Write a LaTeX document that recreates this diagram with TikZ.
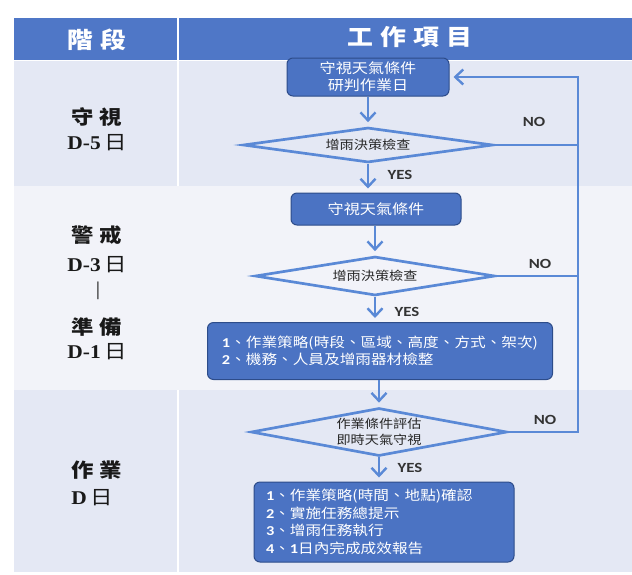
\documentclass[tikz,border=0pt]{standalone}
\usepackage{fontspec}
\setmainfont{Liberation Serif}
\newfontfamily\cjk[FakeStretch=1.15]{Noto Sans CJK TC}
\newfontfamily\lat[FakeStretch=1.2]{Carlito}
\newfontfamily\dser[FakeStretch=1.1]{Liberation Serif}
\usetikzlibrary{shapes.geometric,arrows.meta}
\definecolor{hdr}{HTML}{4F77C7}
\definecolor{bandA}{HTML}{E4E8F4}
\definecolor{bandB}{HTML}{F2F3F9}
\definecolor{boxfill}{HTML}{4B73C3}
\definecolor{boxedge}{HTML}{2D4C8A}
\definecolor{flow}{HTML}{5A89D6}
\newcommand\numlab[1]{{\lat\bfseries #1}}
\begin{document}
\begin{tikzpicture}[x=1pt,y=-1pt,
  stepbox/.style={draw=boxedge, line width=1pt, fill=boxfill, rounded corners=6pt,
    text=white, font=\cjk\fontsize{14}{17}\selectfont, inner sep=0pt, align=center},
  listbox/.style={stepbox, align=left, font=\cjk\fontsize{13.6}{17.5}\selectfont},
  decision/.style={diamond, draw=flow, line width=2.7pt, inner sep=0pt, align=center,
    text=black!85, font=\cjk\fontsize{12.3}{16}\selectfont},
  flowline/.style={draw=flow, line width=2.6pt},
  flowarrow/.style={flowline, shorten >=4pt, -{Straight Barb[length=8pt,width=15pt,line width=2.4pt]}},
  yn/.style={font=\lat\bfseries\fontsize{14}{14}\selectfont, text=black!80, inner sep=0pt},
  stage/.style={font=\bfseries\fontsize{19.5}{19.5}\selectfont, text=black!90, inner sep=0pt},
  headtxt/.style={font=\cjk\bfseries\fontsize{22.5}{22.5}\selectfont, text=white, inner sep=0pt}]
\useasboundingbox (0,0) rectangle (632,574);
\fill[white] (0,0) rectangle (632,574);
% bands
\fill[bandA] (14,61) rectangle (632,186);
\fill[bandB] (14,186) rectangle (632,390);
\fill[bandA] (14,390) rectangle (632,572);
\fill[hdr] (14,18) rectangle (632,60);
\draw[white, line width=1.5pt] (14,60.5) -- (632,60.5);
\draw[white, line width=1.5pt] (178,18) -- (178,186);
\draw[white, line width=1.5pt] (178,390) -- (178,572);
% header
\node[headtxt] (h1) at (97,40) {階\hspace{8pt}段};
\node[headtxt] (h2) at (410,37) {工\hspace{7pt}作\hspace{7pt}項\hspace{7pt}目};
% stage labels
\node[stage] (s1a) at (97,117) {\cjk 守\hspace{6pt}視};
\node[stage] (s1b) at (97,143) {\dser D-5\,{\cjk\mdseries 日}};
\node[stage] (s2a) at (97,235) {\cjk 警\hspace{6pt}戒};
\node[stage] (s2b) at (97,265) {\dser D-3\,{\cjk\mdseries 日}};
\node[stage] (s2c) at (98,291) {\dser\mdseries |};
\node[stage] (s2d) at (97,327) {\cjk 準\hspace{6pt}備};
\node[stage] (s2e) at (97,352) {\dser D-1\,{\cjk\mdseries 日}};
\node[stage] (s3a) at (97,470) {\cjk 作\hspace{6pt}業};
\node[stage] (s3b) at (92,498) {\dser D\,{\cjk\mdseries 日}};
% flow nodes
\node[stepbox, minimum width=162pt, minimum height=38pt] (b1) at (368,77) {守視天氣條件\\研判作業日};
\node[decision, aspect=7.1, minimum width=250pt, minimum height=35pt] (d1) at (368,145) {增雨決策檢查};
\node[stepbox, minimum width=170pt, minimum height=32pt] (b2) at (376,209) {守視天氣條件};
\node[decision, aspect=6.15, minimum width=240pt, minimum height=39pt] (d2) at (375,276) {增雨決策檢查};
\node[listbox, minimum width=345pt, minimum height=57pt] (b3) at (380,351)
  {\numlab{1}、作業策略(時段、區域、高度、方式、架次)\\\numlab{2}、機務、人員及增雨器材檢整};
\node[decision, aspect=5.33, minimum width=256pt, minimum height=48pt] (d3) at (379,432) {作業條件評估\\即時天氣守視};
\node[listbox, minimum width=260pt, minimum height=80pt, text width=236pt] (b4) at (384,522)
  {\numlab{1}、作業策略(時間、地點)確認\\\numlab{2}、實施任務總提示\\\numlab{3}、增雨任務執行\\\numlab{4}、\numlab{1}日內完成成效報告};
% YES / NO labels
\node[yn] (y1) at (400,175) {YES};
\node[yn] (y2) at (407,312) {YES};
\node[yn] (y3) at (410,468) {YES};
\node[yn] (n1) at (534,122) {NO};
\node[yn] (n2) at (540,264) {NO};
\node[yn] (n3) at (545,420) {NO};
% connectors
\coordinate (loopR) at (578,0);
\draw[flowarrow] (b1.south) -- (d1.north);
\draw[flowarrow] (d1.south) -- (d1.south |- b2.north);
\draw[flowarrow] (b2.south -| d2.north) -- (d2.north);
\draw[flowarrow] (d2.south) -- (d2.south |- b3.north);
\draw[flowarrow] (b3.south -| d3.north) -- (d3.north);
\draw[flowarrow] (d3.south) -- (d3.south |- b4.north);
\draw[flowline] (d1.east) -- (d1.east -| loopR);
\draw[flowline] (d2.east) -- (d2.east -| loopR);
\draw[flowarrow, line join=miter] (d3.east) -- (d3.east -| loopR) |- (b1.east);
\end{tikzpicture}
\end{document}
